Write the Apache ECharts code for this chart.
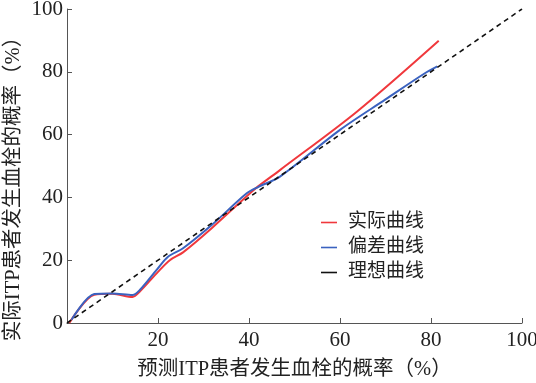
<!DOCTYPE html>
<html>
<head>
<meta charset="utf-8">
<script src="https://cdn.jsdelivr.net/npm/echarts@6/dist/echarts.min.js"></script>
<style>
  html, body { margin: 0; padding: 0; background: #fff; }
  #chart { width: 536px; height: 383px; }
</style>
</head>
<body>
<div id="chart"></div>
<script>
var actualCurve = [
  [0.5, 0], [6, 9], [10, 9.3], [14.4, 8.3], [16, 10], [20, 16.3], [22.6, 20],
  [25.5, 22.5], [31.8, 30.2], [39.8, 40.8], [42, 43.5], [46.8, 48.7],
  [63.7, 67.3], [81.7, 89.9]
]
var biasCurve = [
  [1, 1], [6, 9.2], [10, 9.4], [14.4, 8.9], [16, 10.5], [19.7, 16.9], [22.2, 21.1],
  [25.5, 23.8], [31.8, 31.2], [39.5, 41.3], [42, 43.3], [46.8, 46.6],
  [60, 61.5], [70, 71.2], [78.4, 79.3], [81.4, 81.7]
]
var idealCurve = [[0, 0], [100, 100]]
var seriesNames = ['实际曲线', '偏差曲线', '理想曲线']
var xTicks = [0, 20, 40, 60, 80, 100]
var yTicks = [0, 20, 40, 60, 80, 100]

var serif = '"Liberation Serif", "Noto Sans CJK SC", serif'
var axisColor = '#555'

var chart = echarts.init(document.getElementById('chart'))
chart.setOption({
  animation: false,
  grid: { left: 67, right: 14, top: 9, bottom: 60, containLabel: false, outerBoundsMode: 'none' },
  legend: {
    left: 316,
    top: 208,
    orient: 'vertical',
    itemGap: 6,
    itemWidth: 16,
    itemHeight: 20,
    data: seriesNames.map(function(n) { return { name: n, icon: 'path://M0,9L16,9L16,10.6L0,10.6Z' } }),
    textStyle: { fontFamily: serif, fontSize: 19, color: '#222', padding: [0, 0, 0, 6] }
  },
  xAxis: {
    type: 'value',
    min: xTicks[0],
    max: xTicks[xTicks.length - 1],
    interval: xTicks[1] - xTicks[0],
    name: '预测ITP患者发生血栓的概率（%）',
    nameLocation: 'middle',
    nameGap: 36,
    nameMoveOverlap: false,
    nameTextStyle: { fontFamily: serif, fontSize: 20.5, color: '#222' },
    axisLine: { lineStyle: { color: axisColor, width: 1 } },
    axisTick: { inside: true, length: 5, lineStyle: { color: axisColor } },
    axisLabel: { showMinLabel: false, fontFamily: serif, fontSize: 21, color: '#222', margin: 7 },
    splitLine: { show: false }
  },
  yAxis: {
    type: 'value',
    min: yTicks[0],
    max: yTicks[yTicks.length - 1],
    interval: yTicks[1] - yTicks[0],
    name: '实际ITP患者发生血栓的概率（%）',
    nameLocation: 'middle',
    nameGap: 43,
    nameMoveOverlap: false,
    nameTextStyle: { fontFamily: serif, fontSize: 20.5, color: '#222', padding: [0, 36, 0, 0] },
    axisLine: { show: true, lineStyle: { color: axisColor, width: 1 } },
    axisTick: { show: true, inside: true, length: 5, lineStyle: { color: axisColor } },
    axisLabel: { fontFamily: serif, fontSize: 21, color: '#222', margin: 4 },
    splitLine: { show: false }
  },
  series: [
    {
      name: seriesNames[0],
      type: 'line',
      data: actualCurve,
      smooth: 0.3,
      showSymbol: false,
      itemStyle: { color: '#f0383c' },
      lineStyle: { color: '#f0383c', width: 2 }
    },
    {
      name: seriesNames[1],
      type: 'line',
      data: biasCurve,
      smooth: 0.3,
      showSymbol: false,
      itemStyle: { color: '#3a62c0' },
      lineStyle: { color: '#3a62c0', width: 2 }
    },
    {
      name: seriesNames[2],
      type: 'line',
      data: idealCurve,
      showSymbol: false,
      itemStyle: { color: '#111' },
      lineStyle: { color: '#111', width: 1.6, type: [5, 4] }
    }
  ]
})
</script>
</body>
</html>
